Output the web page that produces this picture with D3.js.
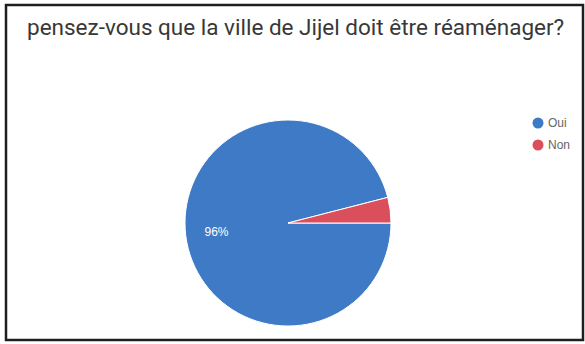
<!DOCTYPE html>
<html>
<head>
<meta charset="utf-8">
<script src="https://cdn.jsdelivr.net/npm/d3@7"></script>
<style>
  html, body { margin: 0; padding: 0; background: #fff; }
  svg { display: block; }
</style>
</head>
<body>
<svg id="chart" width="585" height="344"></svg>
<script>
// Survey answers
const categories = ["Oui", "Non"];
const values = [96, 4];
const percentLabels = ["96%", ""];
const colors = ["#3e7ac5", "#db4f5c"];
const title = "pensez-vous que la ville de Jijel doit être réaménager?";

const svg = d3.select("#chart");

// Frame
svg.append("rect")
  .attr("x", 6).attr("y", 5)
  .attr("width", 577).attr("height", 335)
  .attr("fill", "#fff")
  .attr("stroke", "#1e1e1e")
  .attr("stroke-width", 2.5);

// Title
svg.append("text")
  .attr("x", 27).attr("y", 35)
  .attr("font-family", "Roboto, sans-serif")
  .attr("font-size", 22.5)
  .attr("fill", "#383838")
  .text(title);

// Pie
const cx = 288, cy = 223, r = 103;
const pie = d3.pie().sort(null)
  .startAngle(Math.PI / 2)
  .endAngle(Math.PI / 2 + 2 * Math.PI);
const arcs = pie(values);
const arc = d3.arc().innerRadius(0).outerRadius(r);
const labelArc = d3.arc().innerRadius(r * 0.7).outerRadius(r * 0.7);

const g = svg.append("g").attr("transform", `translate(${cx},${cy})`);
g.selectAll("path").data(arcs).join("path")
  .attr("d", arc)
  .attr("fill", (d, i) => colors[i])
  .attr("stroke", "#fff")
  .attr("stroke-width", 1);

g.selectAll("text.pct").data(arcs).join("text")
  .attr("class", "pct")
  .attr("transform", d => `translate(${labelArc.centroid(d)})`)
  .attr("text-anchor", "middle")
  .attr("dy", "0.35em")
  .attr("font-family", "Liberation Sans, Arial, sans-serif")
  .attr("font-size", 12)
  .attr("fill", "#fff")
  .text((d, i) => percentLabels[i]);

// Legend
const legend = svg.append("g").attr("transform", "translate(538,123)");
const item = legend.selectAll("g").data(categories).join("g")
  .attr("transform", (d, i) => `translate(0,${i * 22})`);
item.append("circle").attr("r", 5.5).attr("fill", (d, i) => colors[i]);
item.append("text")
  .attr("x", 10).attr("dy", "0.35em")
  .attr("font-family", "Liberation Sans, Arial, sans-serif")
  .attr("font-size", 12)
  .attr("fill", "#666")
  .text(d => d);
</script>
</body>
</html>
